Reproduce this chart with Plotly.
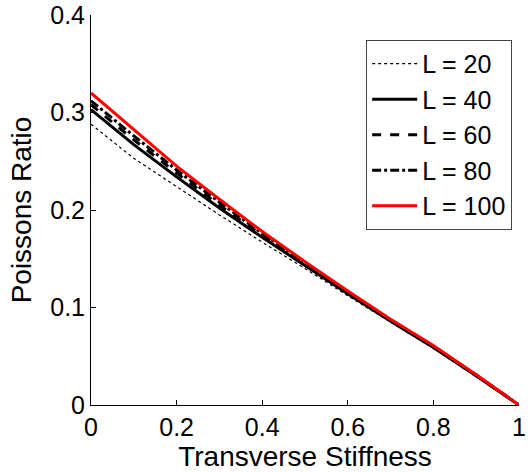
import plotly.graph_objects as go

x = [0.0, 0.1, 0.2, 0.3, 0.4, 0.5, 0.6, 0.7, 0.8, 0.9, 1.0]
L20 = [0.288, 0.253, 0.224, 0.195, 0.167, 0.140, 0.112, 0.085, 0.058, 0.029, 0.0]
L40 = [0.303, 0.267, 0.234, 0.202, 0.172, 0.143, 0.114, 0.086, 0.059, 0.030, 0.0]
L60 = [0.308, 0.272, 0.238, 0.205, 0.174, 0.145, 0.115, 0.087, 0.060, 0.030, 0.0]
L80 = [0.312, 0.276, 0.241, 0.208, 0.176, 0.146, 0.116, 0.087, 0.060, 0.031, 0.0]
L100 = [0.320, 0.283, 0.245, 0.211, 0.178, 0.147, 0.117, 0.088, 0.061, 0.031, 0.0]

names = ["L = 20", "L = 40", "L = 60", "L = 80", "L = 100"]
series = [L20, L40, L60, L80, L100]
styles = [
    dict(color="black", width=1.2, dash="dot"),
    dict(color="black", width=3),
    dict(color="black", width=3, dash="dash"),
    dict(color="black", width=3, dash="dashdot"),
    dict(color="red", width=3),
]

fam = "Liberation Sans, Arial, sans-serif"
tickfont = dict(family=fam, size=25, color="black")
titlefont = dict(family=fam, size=28, color="black")
legfont = dict(family=fam, size=25, color="black")

fig = go.Figure()
for i, (n, s, st) in enumerate(zip(names, series, styles)):
    fig.add_trace(go.Scatter(x=x, y=s, mode="lines", name=n, line=st,
                             legendgroup=str(i)))

fig.update_layout(
    width=531, height=472,
    margin=dict(l=91, r=12, t=15, b=67, autoexpand=False),
    paper_bgcolor="white", plot_bgcolor="white",
    font=tickfont,
    showlegend=True,
    legend=dict(x=0.984, y=0.936, xanchor="right", yanchor="top",
                bordercolor="#444", borderwidth=1, bgcolor="white",
                font=legfont, tracegroupgap=0, itemwidth=45),
    xaxis=dict(range=[0, 1], tickvals=[0, 0.2, 0.4, 0.6, 0.8, 1],
               ticktext=["0", "0.2", "0.4", "0.6", "0.8", "1"],
               ticks="inside", ticklen=5, tickcolor="black",
               tickfont=tickfont, automargin=False,
               showline=True, linecolor="black", linewidth=1,
               showgrid=False, zeroline=False,
               title=dict(text="Transverse Stiffness", font=titlefont, standoff=0)),
    yaxis=dict(range=[0, 0.4], tickvals=[0, 0.1, 0.2, 0.3, 0.4],
               ticktext=["0", "0.1", "0.2", "0.3", "0.4"],
               ticks="inside", ticklen=5, tickcolor="black",
               tickfont=tickfont, automargin=False,
               showline=True, linecolor="black", linewidth=1,
               showgrid=False, zeroline=False,
               title=dict(text="Poissons Ratio", font=titlefont, standoff=10)),
)

fig.write_html("out.html")
